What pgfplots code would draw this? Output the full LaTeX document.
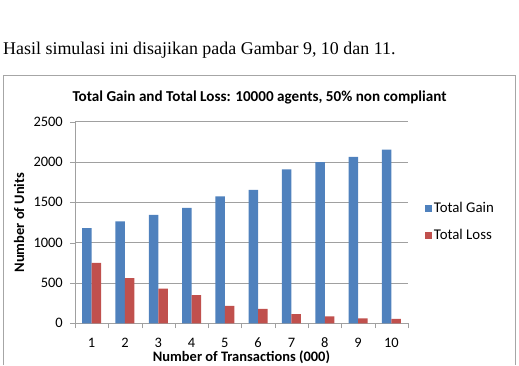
\documentclass[border=0pt]{standalone}
\usepackage{fontspec}
\setmainfont{Carlito}
\newfontfamily\timesfont{Liberation Serif}
\usepackage{pgfplots}
\pgfplotsset{compat=1.18}
\definecolor{gainblue}{HTML}{4F81BD}
\definecolor{lossred}{HTML}{C0504D}
\definecolor{gridgray}{HTML}{A0A0A0}
\definecolor{boxgray}{HTML}{A6A6A6}
\begin{document}
\begin{tikzpicture}[x=1bp,y=1bp]
\useasboundingbox (0,0) rectangle (519,365);
\node[anchor=base west,inner sep=0pt,font=\timesfont\fontsize{18}{21}\selectfont] at (3,310.7) {Hasil simulasi ini disajikan pada Gambar 9, 10 dan 11.};
\draw[boxgray,line width=1bp] (3,0)--(3,290)--(515,290)--(515,0);
\node[font=\bfseries\fontsize{15.2}{17}\selectfont] at (259.5,268) {Total Gain and Total Loss: 10000 agents, 50\% non compliant};
\node[font=\bfseries\fontsize{14.5}{17}\selectfont,rotate=90] at (19,142.5) {Number of Units};
\node[anchor=base,inner sep=0pt,font=\bfseries\fontsize{14.5}{17}\selectfont] at (241.5,4) {Number of Transactions (000)};
\begin{axis}[
  at={(75bp,41.7bp)},anchor=south west,
  scale only axis, width=333bp, height=201.6bp,
  xmin=0.5, xmax=10.5, ymin=0, ymax=2500,
  ybar=0pt, bar width=9.5bp,
  axis x line*=bottom, axis y line*=left,
  axis line style={draw=gridgray,-},
  xtick={1,...,10},
  minor xtick={0.5,1.5,...,10.5},
  tick align=outside,
  major x tick style={draw=none},
  minor x tick style={draw=gridgray},
  minor tick length=5bp,
  major tick length=5bp,
  ytick={0,500,...,2500},
  ytick style={draw=gridgray},
  ymajorgrids, grid style={draw=gridgray,line width=0.7bp},
  /pgf/number format/assume math mode=true,
  ticklabel style={font=\fontsize{14.5}{17}\selectfont},
  xticklabel style={anchor=base,inner sep=0pt,yshift=-19.5bp},
  yticklabel style={anchor=east,inner sep=0pt,xshift=-7bp},
  scaled y ticks=false,
  yticklabel={\pgfmathprintnumber[fixed,1000 sep={}]{\tick}},
  legend style={at={(rel axis cs:1.05,0.504)},anchor=west,draw=none,fill=none,
    font=\fontsize{14.9}{17}\selectfont,row sep=11bp,inner sep=0pt},
  legend cell align=left,
  legend image code/.code={\fill[#1] (0bp,-3.5bp) rectangle (7bp,3.5bp);},
]
\addplot[fill=gainblue,draw=none] coordinates {(1,1180) (2,1265) (3,1345) (4,1430) (5,1575) (6,1655) (7,1910) (8,2000) (9,2065) (10,2155)};
\addplot[fill=lossred,draw=none] coordinates {(1,750) (2,560) (3,430) (4,350) (5,215) (6,180) (7,115) (8,85) (9,60) (10,55)};
\legend{Total Gain,Total Loss}
\end{axis}
\end{tikzpicture}
\end{document}
